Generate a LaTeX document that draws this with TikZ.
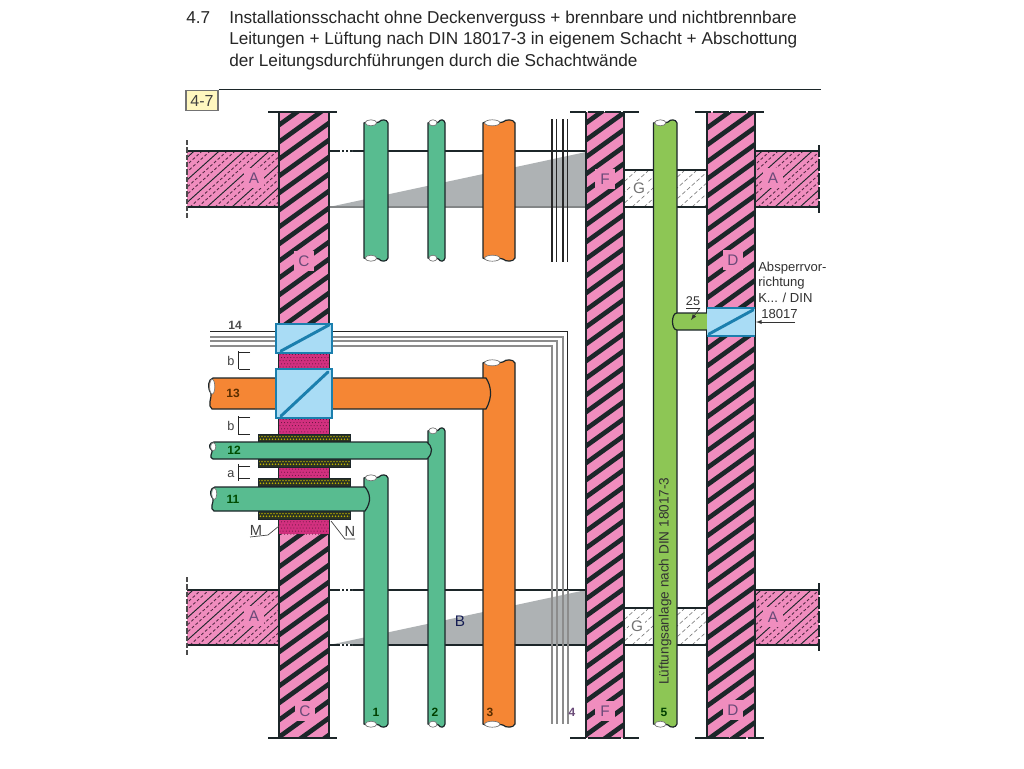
\documentclass[tikz,border=0pt]{standalone}
\usepackage{fontspec}
\setmainfont{Liberation Sans}
\definecolor{wallpink}{HTML}{F08DBE}
\definecolor{darkink}{HTML}{1C2629}
\definecolor{pipegreen}{HTML}{58BC90}
\definecolor{pipeorange}{HTML}{F58634}
\definecolor{ventgreen}{HTML}{8DC655}
\definecolor{boxblue}{HTML}{A9DCF5}
\definecolor{diagblue}{HTML}{1B7FAE}
\definecolor{wedgegray}{HTML}{AEB2B4}
\definecolor{speckle}{HTML}{D2307F}
\definecolor{tagyellow}{HTML}{FFF7BF}
\definecolor{letterink}{HTML}{6A4A78}
\tikzset{
  outline/.style={draw=darkink,line width=0.9pt},
  slabline/.style={draw=darkink,line width=0.85pt},
  walllabel/.style={fill=wallpink,text=letterink,font=\fontsize{11.5}{13}\selectfont,inner sep=2pt,minimum width=14.5pt,minimum height=14.5pt},
  plainlabel/.style={text=letterink,font=\fontsize{11.5}{13}\selectfont,inner sep=0pt},
  numlabel/.style={font=\bfseries\fontsize{9}{10}\selectfont,inner sep=0pt},
  notelabel/.style={font=\fontsize{9.8}{11}\selectfont,text=black!80,inner sep=0pt,anchor=west},
  titletext/.style={font=\fontsize{12.9}{15}\selectfont,text=black!85,inner sep=0pt,anchor=base west},
  firebox/.style={fill=boxblue,draw=diagblue,line width=0.9pt},
  firediag/.style={draw=diagblue,line width=2.2pt,line cap=round}
}
\newcommand{\wallhatch}[5]{% x1 x2 y1 y2 phase
  \begin{scope}
    \fill[wallpink] (#1,#3) rectangle (#2,#4);
    \clip (#1,#3) rectangle (#2,#4);
    \foreach \k in {0,...,42}{
      \draw[darkink,line width=3.5pt] ({#1-3},{#3+#5+17*\k+2.16}) -- ({#2+3},{#3+#5+17*\k-0.72*(#2-#1+3)});
    }
  \end{scope}
  \draw[outline] (#1,#3) -- (#1,#4) (#2,#3) -- (#2,#4);
}
\newcommand{\slabhatch}[4]{% x1 x2 y1 y2
  \begin{scope}
    \fill[wallpink] (#1,#3) rectangle (#2,#4);
    \clip (#1,#3) rectangle (#2,#4);
    \foreach \k in {0,...,14}{
      \draw[darkink,line width=0.7pt] ({#1-80+25*\k},#4) -- ({#1+25*\k},{#4-72});
      \draw[darkink!70!speckle,line width=0.65pt,dash pattern=on 2.2pt off 1.6pt] ({#1-72+25*\k},#4) -- ({#1+8+25*\k},{#4-72});
      \draw[darkink!70!speckle,line width=0.65pt,dash pattern=on 2.2pt off 1.6pt] ({#1-64+25*\k},#4) -- ({#1+16+25*\k},{#4-72});
    }
  \end{scope}
  \draw[slabline] (#1,#3) -- (#2,#3) (#1,#4) -- (#2,#4);
}
\newcommand{\lighthatch}[4]{% x1 x2 y1 y2
  \begin{scope}
    \clip (#1,#3) rectangle (#2,#4);
    \foreach \k in {0,...,11}{
      \draw[black!50,line width=0.5pt,dash pattern=on 3pt off 1.8pt] ({#1-40+12*\k},#4) -- ({#1+12*\k},{#4-36});
    }
  \end{scope}
  \draw[slabline] (#1,#3) -- (#2,#3) (#1,#4) -- (#2,#4);
}
\newcommand{\vpipe}[5]{% x1 x2 ytop ybot colour
  \pgfmathsetmacro{\wdt}{#2-#1}
  \draw[outline,fill=#5] (#1,{#4-3}) -- (#1,{#3+3})
     .. controls ({#1+.2*\wdt},{#3-1}) and ({#1+.45*\wdt},{#3+5}) .. ({#1+.62*\wdt},{#3+2})
     .. controls ({#1+.72*\wdt},{#3-1}) and ({#1+.95*\wdt},{#3-1}) .. (#2,{#3+3})
     -- (#2,{#4-3})
     .. controls ({#1+.95*\wdt},{#4+1}) and ({#1+.72*\wdt},{#4+1}) .. ({#1+.62*\wdt},{#4-2})
     .. controls ({#1+.45*\wdt},{#4-5}) and ({#1+.2*\wdt},{#4+1}) .. (#1,{#4-3}) -- cycle;
  \draw[fill=white,draw=black!55,line width=0.5pt] ({#1+.29*\wdt},{#3+2.8}) ellipse ({.24*\wdt} and 3);
  \draw[fill=white,draw=black!55,line width=0.5pt] ({#1+.29*\wdt},{#4-2.8}) ellipse ({.24*\wdt} and 3);
}
\newcommand{\hpipe}[5]{% x1 x2 ytop ybot colour
  \pgfmathsetmacro{\hgt}{#4-#3}
  \draw[outline,fill=#5] ({#1+4},#3) -- ({#2-6},#3)
     .. controls ({#2-1},{#3+.25*\hgt}) and ({#2+1},{#3+.6*\hgt}) .. ({#2-6},#4)
     -- ({#1+3},#4)
     .. controls ({#1-2},{#4-.1*\hgt}) and ({#1+3},{#3+.62*\hgt}) .. ({#1+2},{#3+.5*\hgt})
     .. controls ({#1-2},{#3+.3*\hgt}) and ({#1-1},{#3+.05*\hgt}) .. ({#1+4},#3) -- cycle;
  \draw[fill=white,draw=black!55,line width=0.5pt] ({#1+3.2},{#3+.28*\hgt}) ellipse (2.6 and {.24*\hgt});
}
\newcommand{\speckled}[5]{% x1 x2 y1 y2 rows
  \begin{scope}
    \fill[speckle] (#1,#3) rectangle (#2,#4);
    \clip (#1,#3) rectangle (#2,#4);
    \foreach \j in {0,...,#5}{\foreach \i in {0,...,16}{
      \fill[black!60!speckle] ({#1+1+3.1*\i+1.5*mod(\j,2)},{#3+1.5+3.1*\j}) circle (0.5);
    }}
  \end{scope}
}
\newcommand{\sleeve}[4]{% x1 x2 y1 y2
  \begin{scope}
    \fill[darkink!85!olive] (#1,#3) rectangle (#2,#4);
    \clip (#1,#3) rectangle (#2,#4);
    \foreach \i in {0,...,31}{
      \fill[olive!60!yellow] ({#1+1+3*\i},{#3+2.6}) circle (0.8);
      \fill[olive!60!yellow] ({#1+2.5+3*\i},{#3+5.2}) circle (0.8);
    }
  \end{scope}
  \draw[darkink,line width=0.6pt] (#1,#3) rectangle (#2,#4);
}
\begin{document}
\begin{tikzpicture}[x=0.75pt,y=-0.75pt]
\useasboundingbox (0,0) rectangle (1024,768);
\fill[white] (0,0) rectangle (1024,768);

% title
\node[titletext] (tnum) at (186,23) {4.7};
\node[titletext] (tl1) at (229,23) {Installationsschacht ohne Deckenverguss + brennbare und nichtbrennbare};
\node[titletext] (tl2) at (229,44) {Leitungen + Lüftung nach DIN 18017-3 in eigenem Schacht + Abschottung};
\node[titletext] (tl3) at (229,66) {der Leitungsdurchführungen durch die Schachtwände};
\coordinate (ruleR) at (821,90);
\node[fill=tagyellow,draw=black!55,line width=0.8pt,minimum width=24pt,minimum height=15.5pt,inner sep=0pt,font=\fontsize{12}{14}\selectfont,text=black!75] (tag) at (202,100.5) {4-7};
\draw[darkink,line width=0.9pt] (tag.north east) -- (tag.north east -| ruleR);

% concrete slabs
\fill[wedgegray] (329,207) -- (586,152) -- (586,207) -- cycle;
\fill[wedgegray] (329,645) -- (586,590) -- (586,645) -- cycle;
\foreach \yy in {151,590,645}{
  \draw[slabline] (329,\yy) -- (586,\yy);
  \draw[white,line width=0.9pt,dash pattern=on 1.3pt off 1.7pt] (340,\yy) -- (352,\yy);
}
\draw[wedgegray!75!black,line width=0.85pt] (329,207) -- (586,207);
\slabhatch{187}{279}{151}{207}
\slabhatch{187}{279}{590}{645}
\slabhatch{755}{819}{151}{207}
\slabhatch{755}{819}{590}{645}
\lighthatch{624}{707}{170}{207}
\lighthatch{624}{707}{608}{645}
\draw[black!70,line width=0.8pt,dash pattern=on 4pt off 1.5pt] (187,140) -- (187,218) (187,577) -- (187,655);
\draw[darkink,line width=0.8pt,dash pattern=on 9pt off 1.5pt] (819,145) -- (819,214) (819,583) -- (819,652);

% shaft walls
\wallhatch{279}{329}{112}{738}{13}
\wallhatch{586}{624}{112}{738}{11}
\wallhatch{707}{755}{112}{738}{16}
\foreach \ya in {112,738}{
  \draw[darkink,line width=0.9pt] (268,\ya) -- (337,\ya);
  \draw[darkink,line width=0.9pt,dash pattern=on 12pt off 1.2pt] (570,\ya) -- (640,\ya);
  \draw[darkink,line width=0.9pt,dash pattern=on 12pt off 1.2pt] (695,\ya) -- (764,\ya);
}

% upper riser stubs
\vpipe{364}{388}{120}{261}{pipegreen}
\vpipe{428}{445}{120}{261}{pipegreen}
\vpipe{483}{515}{120}{261}{pipeorange}
\foreach \xx in {552,556.5,563,567.5}{
  \draw[black!85,line width=0.9pt] (\xx,119) -- (\xx,262);
}

% cable bundle 14
\draw[black!45,line width=1.5pt] (210,346) -- (552,346) -- (552,724);
\draw[black!45,line width=1.5pt] (210,341) -- (556.5,341) -- (556.5,724);
\draw[black!45,line width=1.5pt] (210,336.5) -- (563,336.5) -- (563,724);
\draw[black!85,line width=1pt] (210,331.5) -- (567.5,331.5) -- (567.5,590);
\draw[black!45,line width=1.5pt] (567.5,590) -- (567.5,724);

% fire-stop infill
\speckled{279}{329}{353}{369}{5}
\speckled{279}{329}{418}{534}{38}
\sleeve{258}{350}{434}{442}
\sleeve{258}{350}{459}{467}
\sleeve{258}{350}{478}{486}
\sleeve{258}{350}{511}{519}

% lower risers and horizontal branches
\vpipe{483}{515}{360}{727}{pipeorange}
\vpipe{428}{445}{428}{727}{pipegreen}
\vpipe{364}{388}{475}{727}{pipegreen}
\hpipe{209}{492}{378}{409}{pipeorange}
\hpipe{210}{433}{442}{459}{pipegreen}
\hpipe{211}{371}{487}{511}{pipegreen}

% fire dampers
\draw[firebox] (276,324) rectangle (332,353);
\draw[firediag] (281,351) -- (329,325);
\draw[firebox] (276,369) rectangle (332,418);
\draw[firediag] (281,416) -- (328,372);

% ventilation duct
\vpipe{653.5}{677}{120}{727}{ventgreen}
\draw[outline,fill=ventgreen] (707,313) -- (677,313) .. controls (671,313) and (671,330) .. (677,330) -- (707,330);
\fill[boxblue] (707,308) rectangle (755,336);
\draw[diagblue,line width=0.9pt] (707,308) -- (755,308) (707,336) -- (755,336);
\draw[firediag] (709,334) -- (753,310);

% wall and zone letters
\node[walllabel] (a1) at (254,178) {A};
\node[walllabel] (c1) at (304,261) {C};
\node[walllabel] (f1) at (605,179) {F};
\node[plainlabel,fill=white,inner sep=1.5pt,text=black!55] (g1) at (639,188) {G};
\node[walllabel] (a2) at (773,178) {A};
\node[walllabel] (d1) at (733,260) {D};
\node[walllabel] (a3) at (254,616) {A};
\node[plainlabel,text=darkink!80!blue] (b1) at (460,621) {B};
\node[walllabel] (c2) at (305,711) {C};
\node[walllabel] (f2) at (605,711) {F};
\node[plainlabel,fill=white,inner sep=1.5pt,text=black!55] (g2) at (637,626) {G};
\node[walllabel] (d2) at (733,710) {D};
\node[walllabel] (a4) at (773,617) {A};

% numbers
\node[numlabel,text=green!25!black] (n1) at (376,712) {1};
\node[numlabel,text=green!25!black] (n2) at (435,712) {2};
\node[numlabel,text=orange!35!black] (n3) at (490,712) {3};
\node[numlabel,text=letterink] (n4) at (572,712) {4};
\node[numlabel,text=green!25!black] (n5) at (664,712) {5};
\node[numlabel,text=black!70] (n14) at (235,325) {14};
\node[numlabel,text=orange!35!black] (n13) at (233,393) {13};
\node[numlabel,text=green!30!black] (n12) at (234,450) {12};
\node[numlabel,text=green!30!black] (n11) at (233,499) {11};

% duct text
\node[font=\fontsize{10.2}{12}\selectfont,text=black!80,rotate=90,inner sep=0pt,anchor=west] (ductlabel) at (665,685) {Lüftungsanlage nach DIN 18017-3};
\node[notelabel] (s1) at (758,268) {Absperrvor-};
\node[notelabel] (s2) at (758,283) {richtung};
\node[notelabel] (s3) at (758,298) {K... / DIN};
\node[notelabel] (s4) at (761,314) {18017};
\coordinate (s4end) at (795,322);
\coordinate (s4tip) at (756,322);
\draw[-latex,black!80,line width=0.5pt] (s4end) -- (s4tip);
\node[font=\fontsize{9.5}{11}\selectfont,text=black!80,inner sep=0pt] (n25) at (693,301) {25};
\coordinate (n25u) at (700,308);
\coordinate (n25l) at (686,308);
\coordinate (n25t) at (691,320);
\draw[black!80,line width=0.5pt] (n25l) -- (n25u);
\draw[-latex,black!80,line width=0.5pt] (n25u) -- (n25t);

% spacing dimensions
\node[font=\fontsize{9.5}{11}\selectfont,text=black!75,inner sep=0pt] (b2) at (231,361) {b};
\draw[black!85,line width=0.6pt] (250,352) -- (238.5,352) (238.5,351) -- (238.5,369) (238.5,369) -- (250,369);
\node[font=\fontsize{9.5}{11}\selectfont,text=black!75,inner sep=0pt] (b3) at (231,426) {b};
\draw[black!85,line width=0.6pt] (250,417) -- (238.5,417) (238.5,416) -- (238.5,435) (238.5,434) -- (250,434);
\node[font=\fontsize{9.5}{11}\selectfont,text=black!75,inner sep=0pt] (a5) at (231,474) {a};
\draw[black!85,line width=0.6pt] (250,466) -- (238.5,466) (238.5,464) -- (238.5,481) (238.5,478) -- (250,478);

% M and N
\node[font=\fontsize{11}{13}\selectfont,text=black!75,inner sep=0pt] (m1) at (256,530) {M};
\node[font=\fontsize{11}{13}\selectfont,text=black!75,inner sep=0pt] (n1b) at (350,531) {N};
\coordinate (mTip) at (279,526);
\coordinate (mA) at (268,535);
\coordinate (mB) at (250,537);
\coordinate (nTip) at (331,521);
\coordinate (nA) at (345,539);
\coordinate (nB) at (355,539);
\draw[black!75,line width=0.5pt] (mB) -- (mA) -- (mTip);
\draw[black!75,line width=0.5pt] (nTip) -- (nA) -- (nB);
\end{tikzpicture}
\end{document}
